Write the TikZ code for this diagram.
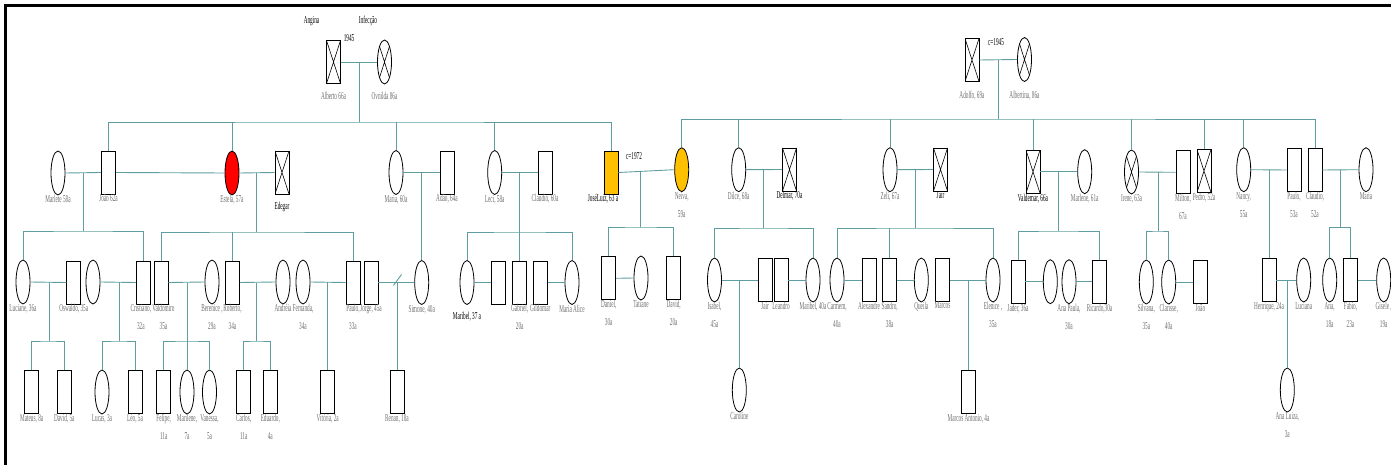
\documentclass[tikz,border=0pt]{standalone}
\usepackage{fontspec}
\usetikzlibrary{shapes.geometric,calc}
\setmainfont{Liberation Serif}
\newfontfamily\lblfont[FakeStretch=0.5]{Liberation Serif}
\definecolor{linecol}{RGB}{95,158,160}
\definecolor{txtgray}{RGB}{110,110,110}
\definecolor{goldc}{RGB}{255,192,0}
\newcommand\lblf{\lblfont\fontsize{10.5pt}{18pt}\selectfont}
\tikzset{
 person/.style={draw=black, line width=0.8pt, fill=white, inner sep=0pt, minimum width=14pt, label distance=5pt},
 male/.style={person, rectangle, minimum height=43pt},
 female/.style={person, ellipse, minimum height=44pt},
 dead/.style={path picture={\draw[line width=0.6pt] (path picture bounding box.north west) -- (path picture bounding box.south east) (path picture bounding box.north east) -- (path picture bounding box.south west);}},
 lbl/.style={font=\lblf, text=txtgray, align=center, inner sep=0pt},
 dk/.style={lbl, text=black},
 rel/.style={draw=linecol, line width=0.9pt},
 note/.style={font=\lblf, text=black, inner sep=0pt},
}
\begin{document}
\begin{tikzpicture}[x=1pt,y=-1pt]
\useasboundingbox (0,0) rectangle (1391,465);
\draw[line width=3pt] (5.5,465) -- (5.5,5.5) -- (1391,5.5);

% ---------- generation 1 ----------
\node[male,dead,label={[lbl,label distance=8pt]below:Alberto 66a}] (alberto) at (333.5,62) {};
\node[female,dead,label={[lbl,label distance=8pt]below:Ovnilda 86a}] (ovnilda) at (384.5,62) {};
\node[male,dead,label={[lbl,label distance=9pt]below:{Adolfo, 69a}}] (adolfo) at (972,60) {};
\node[female,dead,label={[lbl,label distance=9pt]below:{Albertina, 86a}}] (albertina) at (1024.5,59.5) {};
\node[note] (angina) at (311.5,21) {Angina};
\node[note] (infec) at (368,21) {Infecção};
\node[note] (y1945) at (349,38) {1945};
\node[note] (c1945) at (996,42) {c=1945};
\node[note] (c1972) at (634,156) {c=1972};

% ---------- generation 2 ----------
\node[female,label={[lbl]below:Marlete 58a}] (marlete) at (58,173) {};
\node[male,label={[lbl]below:João 62a}] (joao) at (108.5,172.5) {};
\node[female,fill=red,label={[lbl]below:{Estela, 57a}}] (estela) at (232,173) {};
\node[male,dead,label={[dk,label distance=8pt]below:Edegar}] (edegar) at (282,172.5) {};
\node[female,label={[lbl]below:{Maria, 60a}}] (maria1) at (396,172.5) {};
\node[male,label={[lbl]below:{Adão, 64a}}] (adao) at (447,172.5) {};
\node[female,label={[lbl]below:{Leci, 58a}}] (leci) at (494.7,172.5) {};
\node[male,label={[lbl]below:{Claudio, 60a}}] (claudio1) at (545,172.5) {};
\node[male,fill=goldc,label={[dk,xshift=-8pt]below:{JoséLuiz, 63 a}}] (jose) at (611,172.5) {};
\node[female,fill=goldc,label={[lbl]below:{Neiva,\\59a}}] (neiva) at (681.7,169.7) {};
\node[female,label={[lbl]below:{Dilce, 68a}}] (dilce) at (738.7,169.7) {};
\node[male,dead,label={[dk]below:{Delmar, 70a}}] (delmar) at (789.5,169.5) {};
\node[female,label={[lbl]below:{Zelí, 67a}}] (zeli) at (890,169.7) {};
\node[male,dead,label={[dk]below:Jair}] (jair1) at (940.5,169.5) {};
\node[male,dead,label={[dk]below:{Valdemar, 66a}}] (valdemar) at (1033,171.7) {};
\node[female,label={[lbl]below:{Marlene, 61a}}] (marlene) at (1084.7,171.7) {};
\node[female,dead,label={[lbl]below:{Irene, 63a}}] (irene) at (1131.5,172) {};
\node[male,label={[lbl]below:{Milton,\\67a}}] (milton) at (1183,172.3) {};
\node[male,dead,label={[lbl]below:{Pedro, 52a}}] (pedro) at (1204,171) {};
\node[female,label={[lbl]below:{Nancy,\\55a}}] (nancy) at (1243.7,169.7) {};
\node[male,label={[lbl]below:{Paulo,\\53a}}] (paulo1) at (1294,170) {};
\node[male,label={[lbl]below:{Claudio,\\52a}}] (claudio2) at (1315,170) {};
\node[female,label={[lbl]below:Maria}] (maria2) at (1366,169.7) {};

% ---------- generation 3 ----------
\node[female,label={[lbl]below:{Luciane, 36a}}] (luciane) at (23,282) {};
\node[male,label={[lbl]below:{Oswaldo, 35a}}] (oswaldo) at (73.7,282.5) {};
\node[female] (ovala) at (93,282) {};
\node[male,label={[lbl,xshift=-2.5pt]below:{Cristiano,\\32a}}] (cristiano) at (143.3,282.5) {};
\node[male,label={[lbl,xshift=2.5pt]below:{Valdomiro\\35a}}] (valdomiro) at (161,282.5) {};
\node[female,label={[lbl]below:{Berenice ,\\29a}}] (berenice) at (212,282) {};
\node[male,label={[lbl]below:{Roberto,\\34a}}] (roberto) at (232.5,282.5) {};
\node[female,label={[lbl]below:Andréia}] (andreia) at (283,282) {};
\node[female,label={[lbl]below:{Fernanda,\\34a}}] (fernanda) at (303,282) {};
\node[male,label={[lbl]below:{Paulo,\\33a}}] (paulo2) at (353,282.5) {};
\node[male,label={[lbl]below:{Jorge, 45a}}] (jorge) at (371,282.5) {};
\node[female,label={[lbl]below:{Simone, 40a}}] (simone) at (421.7,282.5) {};
\node[female,label={[dk,label distance=7pt]below:{Maribel, 37 a}}] (maribel1) at (467,282.5) {};
\node[male] (boxb) at (498.7,282.5) {};
\node[male,label={[lbl]below:{Gabriel,\\20a}}] (gabriel) at (519.7,282.5) {};
\node[male,label={[lbl]below:Gildomar}] (gildomar) at (540.3,282.5) {};
\node[female,label={[lbl]below:Maria Alice}] (mariaalice) at (572,282.5) {};
\node[male,label={[lbl]below:{Daniel,\\30a}}] (daniel) at (608.7,278.3) {};
\node[female,label={[lbl]below:Tatiane}] (tatiane) at (641,278) {};
\node[male,label={[lbl]below:{David,\\20a}}] (david1) at (673.7,278.3) {};
\node[female,label={[lbl]below:{Isabel,\\45a}}] (isabel) at (714.5,280) {};
\node[male,label={[lbl]below:Jair}] (jair2) at (765,280) {};
\node[male,label={[lbl]below:Leandro}] (leandro) at (781,280) {};
\node[female,label={[lbl]below:{Maribel, 40a}}] (maribel2) at (813,280) {};
\node[female,label={[lbl]below:{Carmem,\\40a}}] (carmem) at (837,280) {};
\node[male,label={[lbl]below:Alexandre}] (alexandre) at (869,280) {};
\node[male,label={[lbl]below:{Sandro,\\38a}}] (sandro) at (889.7,280) {};
\node[female,label={[lbl]below:Queila}] (queila) at (921.3,280) {};
\node[male,label={[lbl]below:Marcos}] (marcos) at (942.5,280) {};
\node[female,label={[lbl]below:{Elenice ,\\35a}}] (elenice) at (993,280) {};
\node[male,label={[lbl]below:{Jader, 36a}}] (jader) at (1018,281.7) {};
\node[female] (ovalc) at (1050.3,281.7) {};
\node[female,label={[lbl]below:{Ana Paula,\\30a}}] (anapaula) at (1069,281.7) {};
\node[male,label={[lbl]below:{Ricardo,30a}}] (ricardo) at (1099.5,281.7) {};
\node[female,label={[lbl]below:{Silvana,\\35a}}] (silvana) at (1146.3,282) {};
\node[female,label={[lbl]below:{Clarisse,\\40a}}] (clarisse) at (1168.7,282) {};
\node[male,label={[lbl]below:João}] (joao2) at (1200.3,282) {};
\node[male,label={[lbl]below:{Henrique, 24a}}] (henrique) at (1269,280) {};
\node[female,label={[lbl]below:Luciana}] (luciana) at (1303.7,280) {};
\node[female,label={[lbl]below:{Ana,\\18a}}] (ana) at (1329.7,280) {};
\node[male,label={[lbl]below:{Fabio,\\23a}}] (fabio) at (1350.5,280) {};
\node[female,label={[lbl]below:{Gisele ,\\19a}}] (gisele) at (1383.7,280) {};

% ---------- generation 4 ----------
\node[male,label={[lbl]below:{Mateus, 8a}}] (mateus) at (31.7,392) {};
\node[male,label={[lbl]below:{David, 5a}}] (david2) at (64.3,392) {};
\node[female,label={[lbl]below:{Lucas, 3a}}] (lucas) at (102,392) {};
\node[male,label={[lbl]below:{Léo, 5a}}] (leo) at (135,392) {};
\node[male,label={[lbl]below:{Felipe,\\11a}}] (felipe) at (163.7,392) {};
\node[female,label={[lbl]below:{Marilene,\\7a}}] (marilene) at (187,392) {};
\node[female,label={[lbl]below:{Vanessa,\\5a}}] (vanessa) at (209.5,392) {};
\node[male,label={[lbl]below:{Carlos,\\11a}}] (carlos) at (243.7,392) {};
\node[male,label={[lbl]below:{Eduardo,\\4a}}] (eduardo) at (270.3,392) {};
\node[male,label={[lbl]below:{Vitória, 2a}}] (vitoria) at (327.7,392) {};
\node[male,label={[lbl]below:{Renan, 18a}}] (renan) at (397,392) {};
\node[female,label={[lbl]below:Caroline}] (caroline) at (739.3,390) {};
\node[male,label={[lbl]below:{Marcos Antonio, 4a}}] (marcosant) at (968.5,392) {};
\node[female,label={[lbl]below:{Ana Luiza,\\3a}}] (analuiza) at (1287.3,390) {};

% ---------- connectors ----------
% Alberto + Ovnilda
\draw[rel] (alberto.east) -- (ovnilda.west);
\coordinate (m1) at (alberto.east -| 359,0);
\coordinate (s1) at (359,122);
\draw[rel] (m1) -- (s1);
\draw[rel] (joao.north) |- (s1) -| (jose.north);
\foreach \c in {estela,maria1,leci} \draw[rel] (\c.north) -- (\c.north |- s1);

% Adolfo + Albertina
\draw[rel] (adolfo.east) -- (albertina.west);
\coordinate (m2) at (adolfo.east -| 998.3,0);
\coordinate (s2) at (998.3,119);
\draw[rel] (m2) -- (s2);
\draw[rel] (neiva.north) |- (s2) -| (claudio2.north);
\foreach \c in {dilce,zeli,valdemar,irene,pedro,nancy} \draw[rel] (\c.north) -- (\c.north |- s2);

% generation 2 couples
\draw[rel] (marlete.east) -- (joao.west);
\draw[rel] (joao.east) -- (estela.west);
\coordinate (m3) at (marlete.east -| 83,0);
\coordinate (s3) at (83,231);
\draw[rel] (m3) -- (s3);
\draw[rel] (luciane.north) |- (s3) -| (cristiano.north);

\draw[rel] (estela.east) -- (edegar.west);
\coordinate (m4) at (estela.east -| 256.7,0);
\coordinate (s4) at (256.7,232);
\draw[rel] (m4) -- (s4);
\draw[rel] (valdomiro.north) |- (s4) -| (paulo2.north);
\draw[rel] (roberto.north) -- (roberto.north |- s4);

\draw[rel] (maria1.east) -- (adao.west);
\coordinate (m5) at (maria1.east -| simone.north);
\draw[rel] (m5) -- (simone.north);

\draw[rel] (leci.east) -- (claudio1.west);
\coordinate (m6) at (leci.east -| 519.5,0);
\coordinate (s6) at (519.5,232);
\draw[rel] (m6) -- (s6);
\draw[rel] (maribel1.north) |- (s6) -| (mariaalice.north);
\draw[rel] (gabriel.north) -- (gabriel.north |- s6);

\draw[rel] (jose.east) -- (neiva.west) coordinate[pos=0.4] (m7);
\coordinate (s7) at (m7 |- 0,227);
\draw[rel] (m7) -- (s7);
\draw[rel] (daniel.north) |- (s7) -| (david1.north);

\draw[rel] (dilce.east) -- (delmar.west);
\coordinate (m8) at (dilce.east -| 763.3,0);
\coordinate (s8) at (763.3,228);
\draw[rel] (m8) -- (s8);
\draw[rel] (isabel.north) |- (s8) -| (maribel2.north);

\draw[rel] (zeli.east) -- (jair1.west);
\coordinate (m9) at (zeli.east -| 915,0);
\coordinate (s9) at (915,228);
\draw[rel] (m9) -- (s9);
\draw[rel] (carmem.north) |- (s9) -| (elenice.north);
\draw[rel] (sandro.north) -- (sandro.north |- s9);

\draw[rel] (valdemar.east) -- (marlene.west);
\coordinate (m10) at (valdemar.east -| 1058.3,0);
\coordinate (s10) at (1058.3,231);
\draw[rel] (m10) -- (s10);
\draw[rel] (jader.north) |- (s10) -| (ricardo.north);

\draw[rel] (irene.east) -- (milton.west);
\coordinate (m11) at (irene.east -| 1158.3,0);
\coordinate (s11) at (1158.3,231);
\draw[rel] (m11) -- (s11);
\draw[rel] (silvana.north) |- (s11) -| (clarisse.north);

\draw[rel] (nancy.east) -- (paulo1.west);
\coordinate (m12) at (nancy.east -| henrique.north);
\draw[rel] (m12) -- (henrique.north);

\draw[rel] (claudio2.east) -- (maria2.west);
\coordinate (m13) at (claudio2.east -| 1340.7,0);
\coordinate (s13) at (1340.7,227.5);
\draw[rel] (m13) -- (s13);
\draw[rel] (ana.north) |- (s13) -| (fabio.north);

% generation 3 couples
\draw[rel] (luciane.east) -- (oswaldo.west);
\coordinate (m14) at (luciane.east -| 49,0);
\coordinate (s14) at (49,341);
\draw[rel] (m14) -- (s14);
\draw[rel] (mateus.north) |- (s14) -| (david2.north);

\draw[rel] (ovala.east) -- (cristiano.west);
\coordinate (m15) at (ovala.east -| 119,0);
\coordinate (s15) at (119,341);
\draw[rel] (m15) -- (s15);
\draw[rel] (lucas.north) |- (s15) -| (leo.north);

\draw[rel] (valdomiro.east) -- (berenice.west);
\coordinate (m16) at (valdomiro.east -| marilene.north);
\coordinate (s16) at (marilene.north |- 0,341);
\draw[rel] (m16) -- (marilene.north);
\draw[rel] (felipe.north) |- (s16) -| (vanessa.north);

\draw[rel] (roberto.east) -- (andreia.west);
\coordinate (m17) at (roberto.east -| 256.7,0);
\coordinate (s17) at (256.7,341);
\draw[rel] (m17) -- (s17);
\draw[rel] (carlos.north) |- (s17) -| (eduardo.north);

\draw[rel] (fernanda.east) -- (paulo2.west);
\coordinate (m18) at (fernanda.east -| vitoria.north);
\draw[rel] (m18) -- (vitoria.north);

\draw[rel] (jorge.east) -- (simone.west);
\coordinate (m19) at (jorge.east -| renan.north);
\draw[rel] (m19) -- (renan.north);
\draw[rel] ([shift={(-3.5,3)}]m19) -- ([shift={(4.5,-8)}]m19);

\draw[rel] (maribel1.east) -- (boxb.west);
\draw[rel] (gildomar.east) -- (mariaalice.west);
\draw[rel] (daniel.east) -- (tatiane.west);

\draw[rel] (isabel.east) -- (jair2.west);
\coordinate (m20) at (isabel.east -| caroline.north);
\draw[rel] (m20) -- (caroline.north);

\draw[rel] (leandro.east) -- (maribel2.west);
\draw[rel] (carmem.east) -- (alexandre.west);
\draw[rel] (sandro.east) -- (queila.west);

\draw[rel] (marcos.east) -- (elenice.west);
\coordinate (m21) at (marcos.east -| marcosant.north);
\draw[rel] (m21) -- (marcosant.north);

\draw[rel] (jader.east) -- (ovalc.west);
\draw[rel] (anapaula.east) -- (ricardo.west);
\draw[rel] (clarisse.east) -- (joao2.west);

\draw[rel] (henrique.east) -- (luciana.west);
\coordinate (m22) at (henrique.east -| analuiza.north);
\draw[rel] (m22) -- (analuiza.north);

\draw[rel] (fabio.east) -- (gisele.west);
\end{tikzpicture}
\end{document}
